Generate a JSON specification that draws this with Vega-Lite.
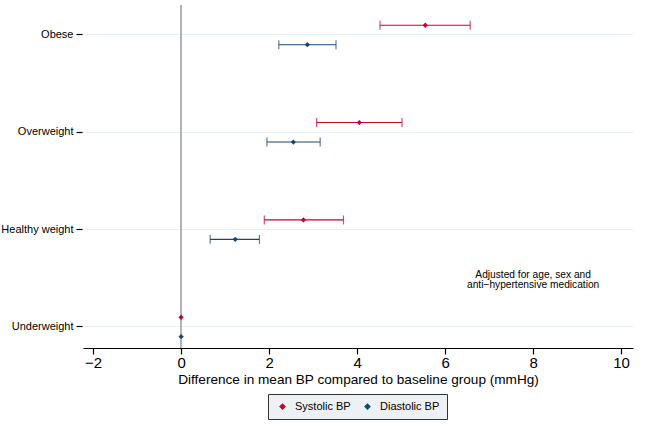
{
  "$schema": "https://vega.github.io/schema/vega-lite/v6.json",
  "width": 550,
  "height": 343,
  "autosize": {"type": "none"},
  "padding": {"left": 83, "top": 5, "right": 19, "bottom": 80},
  "background": "white",
  "config": {
    "view": {"stroke": null},
    "font": "Liberation Sans"
  },
  "data": {
    "values": [
      {"group": "Obese", "series": "Systolic BP", "est": 5.55, "lo": 4.52, "hi": 6.57},
      {"group": "Obese", "series": "Diastolic BP", "est": 2.87, "lo": 2.22, "hi": 3.52},
      {"group": "Overweight", "series": "Systolic BP", "est": 4.05, "lo": 3.08, "hi": 5.02},
      {"group": "Overweight", "series": "Diastolic BP", "est": 2.55, "lo": 1.95, "hi": 3.16},
      {"group": "Healthy weight", "series": "Systolic BP", "est": 2.78, "lo": 1.89, "hi": 3.69},
      {"group": "Healthy weight", "series": "Diastolic BP", "est": 1.23, "lo": 0.66, "hi": 1.78},
      {"group": "Underweight", "series": "Systolic BP", "est": 0, "lo": null, "hi": null},
      {"group": "Underweight", "series": "Diastolic BP", "est": 0, "lo": null, "hi": null}
    ]
  },
  "encoding": {
    "y": {
      "field": "group",
      "type": "nominal",
      "sort": ["Obese", "Overweight", "Healthy weight", "Underweight"],
      "scale": {"paddingInner": 0.6, "paddingOuter": 0.062, "align": 0.87, "round": false},
      "axis": {
        "title": null,
        "domain": false,
        "ticks": true,
        "tickColor": "#000",
        "tickSize": 6,
        "tickWidth": 1.2,
        "offset": 1,
        "labelFontSize": 11,
        "labelColor": "#000",
        "labelPadding": 3,
        "grid": true,
        "gridColor": "#e8f0f2",
        "gridWidth": 1.2
      }
    },
    "yOffset": {
      "field": "series",
      "type": "nominal",
      "sort": ["Systolic BP", "Diastolic BP"],
      "scale": {"paddingInner": 0, "paddingOuter": 0}
    },
    "color": {
      "field": "series",
      "type": "nominal",
      "sort": ["Systolic BP", "Diastolic BP"],
      "scale": {"domain": ["Systolic BP", "Diastolic BP"], "range": ["#C10534", "#1A476F"]},
      "legend": {
        "title": null,
        "orient": "none",
        "legendX": 185,
        "legendY": 389,
        "direction": "horizontal",
        "symbolType": "diamond",
        "symbolSize": 22,
        "symbolOpacity": 1,
        "symbolOffset": 2,
        "labelOffset": 7,
        "labelFontSize": 11,
        "labelColor": "#000",
        "fillColor": "#eef1f3",
        "strokeColor": "#333",
        "padding": 7,
        "columnPadding": 9
      }
    }
  },
  "layer": [
    {
      "mark": {"type": "rule", "color": "#b4b4b4", "strokeWidth": 1.3},
      "encoding": {"x": {"datum": 0, "type": "quantitative"}, "y": null, "yOffset": null, "color": null}
    },
    {
      "transform": [{"filter": "datum.lo != null"}],
      "mark": {"type": "rule", "strokeWidth": 1.1},
      "encoding": {
        "x": {"field": "lo", "type": "quantitative"},
        "x2": {"field": "hi"}
      }
    },
    {
      "transform": [{"filter": "datum.lo != null"}],
      "mark": {"type": "tick", "thickness": 1.2, "size": 9},
      "encoding": {
        "x": {"field": "lo", "type": "quantitative"}
      }
    },
    {
      "transform": [{"filter": "datum.lo != null"}],
      "mark": {"type": "tick", "thickness": 1.2, "size": 9},
      "encoding": {
        "x": {"field": "hi", "type": "quantitative"}
      }
    },
    {
      "mark": {"type": "point", "shape": "diamond", "filled": true, "size": 28, "opacity": 1},
      "encoding": {
        "x": {
          "field": "est",
          "type": "quantitative",
          "scale": {"domain": [-2.23, 10.27], "nice": false, "zero": false},
          "axis": {
            "title": "Difference in mean BP compared to baseline group (mmHg)",
            "titleFontSize": 13.6,
            "titleFontWeight": "normal",
            "titleColor": "#000",
            "titlePadding": 2,
            "values": [-2, 0, 2, 4, 6, 8, 10],
            "grid": false,
            "domainColor": "#000",
            "domainWidth": 1.2,
            "tickColor": "#000",
            "tickSize": 6,
            "tickWidth": 1.2,
            "labelFontSize": 15,
            "labelColor": "#000",
            "labelPadding": 1
          }
        }
      }
    },
    {
      "data": {"values": [{"text": ["Adjusted for age, sex and", "anti\u2212hypertensive medication"], "x": 8, "group": "Healthy weight"}]},
      "mark": {"type": "text", "fontSize": 10.2, "align": "center", "baseline": "middle", "dy": 45, "lineHeight": 10.5, "color": "#000"},
      "encoding": {
        "x": {"field": "x", "type": "quantitative"},
        "text": {"field": "text"},
        "yOffset": null,
        "color": null
      }
    }
  ]
}
